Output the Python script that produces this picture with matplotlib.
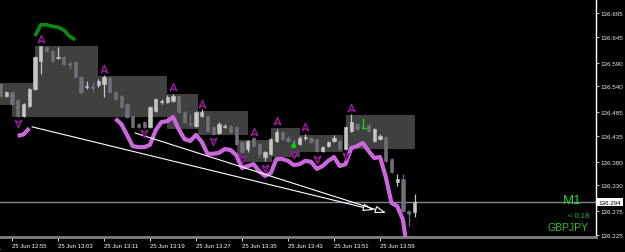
import matplotlib
matplotlib.use('Agg')
import matplotlib.pyplot as plt
import matplotlib.transforms as mtransforms
from matplotlib.path import Path
from matplotlib.patches import Rectangle

plt.rcParams['font.family'] = ['Liberation Sans', 'DejaVu Sans']

# ---------------- data ----------------
# bar positions: minutes relative to 25 Jun 12:55 (M1 chart, GBPJPY)
bars = list(range(-2, 71))
opens = [136.545, 136.519, 136.528, 136.511, 136.477, 136.498, 136.534, 136.593, 136.623, 136.615,
         136.600, 136.602, 136.589, 136.591, 136.559, 136.538, 136.540, 136.543, 136.545, 136.557,
         136.528, 136.519, 136.502, 136.477, 136.460, 136.464, 136.454, 136.488, 136.507, 136.507,
         136.509, 136.519, 136.485, 136.462, 136.456, 136.477, 136.477, 136.454, 136.441, 136.454,
         136.456, 136.454, 136.422, 136.407, 136.430, 136.418, 136.390, 136.397, 136.424, 136.443,
         136.430, 136.424, 136.418, 136.430, 136.430, 136.428, 136.403, 136.413, 136.424, 136.424,
         136.407, 136.445, 136.460, 136.456, 136.458, 136.424, 136.428, 136.432, 136.386, 136.337,
         136.344, 136.276, 136.274]
highs = [136.547, 136.530, 136.530, 136.513, 136.504, 136.536, 136.604, 136.625, 136.625, 136.617,
         136.623, 136.604, 136.593, 136.593, 136.562, 136.551, 136.549, 136.555, 136.564, 136.559,
         136.530, 136.521, 136.504, 136.479, 136.462, 136.466, 136.498, 136.515, 136.513, 136.521,
         136.524, 136.521, 136.488, 136.481, 136.488, 136.492, 136.479, 136.456, 136.464, 136.460,
         136.458, 136.456, 136.424, 136.426, 136.432, 136.420, 136.403, 136.430, 136.449, 136.445,
         136.435, 136.428, 136.435, 136.439, 136.432, 136.430, 136.413, 136.424, 136.437, 136.426,
         136.456, 136.481, 136.462, 136.460, 136.460, 136.452, 136.439, 136.435, 136.388, 136.354,
         136.354, 136.278, 136.312]
lows = [136.517, 136.517, 136.500, 136.475, 136.475, 136.496, 136.532, 136.566, 136.612, 136.591,
        136.598, 136.585, 136.576, 136.557, 136.524, 136.534, 136.528, 136.538, 136.517, 136.526,
        136.511, 136.494, 136.473, 136.452, 136.452, 136.452, 136.452, 136.485, 136.502, 136.504,
        136.507, 136.483, 136.462, 136.454, 136.454, 136.475, 136.443, 136.437, 136.439, 136.452,
        136.441, 136.416, 136.399, 136.401, 136.411, 136.390, 136.382, 136.394, 136.422, 136.426,
        136.422, 136.418, 136.416, 136.426, 136.420, 136.401, 136.401, 136.411, 136.422, 136.405,
        136.405, 136.443, 136.447, 136.452, 136.443, 136.422, 136.426, 136.380, 136.356, 136.329,
        136.274, 136.244, 136.263]
closes = [136.519, 136.528, 136.502, 136.477, 136.502, 136.534, 136.602, 136.625, 136.615, 136.593,
          136.602, 136.587, 136.585, 136.559, 136.528, 136.540, 136.536, 136.551, 136.559, 136.528,
          136.513, 136.496, 136.475, 136.454, 136.454, 136.454, 136.496, 136.513, 136.509, 136.517,
          136.519, 136.485, 136.464, 136.460, 136.485, 136.485, 136.445, 136.439, 136.460, 136.456,
          136.443, 136.418, 136.401, 136.424, 136.413, 136.397, 136.401, 136.428, 136.443, 136.428,
          136.424, 136.423, 136.430, 136.432, 136.422, 136.403, 136.411, 136.422, 136.430, 136.407,
          136.454, 136.464, 136.449, 136.455, 136.445, 136.449, 136.435, 136.382, 136.358, 136.344,
          136.276, 136.269, 136.294]

# range boxes: start bar, end bar, low, high
box_start = [-2.1, 0.0, 4.0, 15.0, 27.0, 32.3, 39.1, 45.0, 48.0, 58.1]
box_end = [4.0, 4.0, 15.0, 27.0, 32.3, 41.0, 45.2, 50.1, 57.6, 70.1]
box_low = [136.500, 136.475, 136.475, 136.475, 136.449, 136.437, 136.380, 136.390, 136.401, 136.407]
box_high = [136.547, 136.547, 136.625, 136.562, 136.524, 136.488, 136.427, 136.452, 136.437, 136.479]

# purple indicator line (two segments)
ind1_x = [1, 2, 3]
ind1_y = [136.435, 136.438, 136.451]
ind2_x = list(range(18, 70))
ind2_y = [136.471, 136.460, 136.437, 136.413, 136.411, 136.411, 136.416, 136.447, 136.464, 136.466,
          136.475, 136.449, 136.428, 136.424, 136.437, 136.422, 136.397, 136.397, 136.399, 136.407,
          136.405, 136.394, 136.367, 136.371, 136.375, 136.360, 136.350, 136.356, 136.386, 136.386,
          136.382, 136.373, 136.375, 136.382, 136.380, 136.365, 136.371, 136.382, 136.390, 136.371,
          136.375, 136.409, 136.413, 136.420, 136.403, 136.388, 136.390, 136.348, 136.293, 136.286,
          136.257, 136.170]

# green line at top
grn_x = [4, 5, 6, 7, 8, 9, 10, 11]
grn_y = [136.646, 136.670, 136.670, 136.667, 136.665, 136.659, 136.646, 136.638]

# fractal arrow markers
up_x = [5, 16, 28, 33, 42, 46, 51, 59]
up_y = [136.640, 136.576, 136.538, 136.502, 136.443, 136.466, 136.454, 136.494]
dn_x = [1, 23, 35, 40, 44, 49, 53, 58]
dn_y = [136.462, 136.441, 136.424, 136.386, 136.367, 136.397, 136.386, 136.392]

# trend line arrows: (x0, y0, x1, y1)
trend_lines = [(3.48, 136.454, 62.96, 136.278),
               (21.39, 136.441, 65.04, 136.272)]

current_price = 136.294
xtick_pos = [-8, 0, 8, 16, 24, 32, 40, 48, 56, 64]
xtick_lab = ['25 Jun 12:47', '25 Jun 12:55', '25 Jun 13:03', '25 Jun 13:11', '25 Jun 13:19',
             '25 Jun 13:27', '25 Jun 13:35', '25 Jun 13:43', '25 Jun 13:51', '25 Jun 13:59']
ytick_vals = [136.695, 136.645, 136.590, 136.540, 136.485, 136.435, 136.380, 136.330, 136.275, 136.225]

# ---------------- figure ----------------
fig = plt.figure(figsize=(6.25, 2.53), dpi=100, facecolor='black')
ax = fig.add_axes([0, 15 / 253, 596 / 625, 238 / 253], facecolor='black')
ax.set_xlim(-2.087, 101.565)
ax.set_ylim(136.2208, 136.7246)

for s, e, lo, hi in zip(box_start, box_end, box_low, box_high):
    ax.add_patch(Rectangle((s, lo), e - s, hi - lo, facecolor='#404040', edgecolor='none', zorder=1))

ax.axhline(current_price, color='#7d8794', lw=1, zorder=1.5)

bull_c, bear_c = '#c6c6c6', '#6f6f78'
for x, o, h, l, c in zip(bars, opens, highs, lows, closes):
    col = bull_c if c >= o else bear_c
    ax.vlines(x, l, h, colors=col, lw=0.9, zorder=2)
    bot = min(o, c)
    ht = max(abs(c - o), 0.0018)
    ax.add_patch(Rectangle((x - 0.3, bot), 0.6, ht, facecolor=col, edgecolor=col, lw=0.4, zorder=3))

purple = '#cc66dd'
ax.plot(ind1_x, ind1_y, color=purple, lw=3, solid_joinstyle='round', solid_capstyle='butt', zorder=4)
ax.plot(ind2_x, ind2_y, color=purple, lw=3, solid_joinstyle='round', solid_capstyle='butt', zorder=4)
ax.plot(grn_x, grn_y, color='#0a8c0a', lw=2.6, solid_joinstyle='round', solid_capstyle='butt', zorder=4)

for x0, y0, x1, y1 in trend_lines:
    ax.annotate('', xy=(x1, y1), xytext=(x0, y0),
                arrowprops=dict(arrowstyle='-|>,head_length=0.65,head_width=0.22', mutation_scale=10,
                                fc='black', ec='white', lw=0.8, shrinkA=0, shrinkB=0), zorder=5)

up_marker = Path([(0, 1), (0.8, -0.8), (0, -0.3), (-0.8, -0.8), (0, 1)],
                 [Path.MOVETO, Path.LINETO, Path.LINETO, Path.LINETO, Path.CLOSEPOLY])
dn_marker = Path([(0, -1), (0.8, 0.8), (0, 0.3), (-0.8, 0.8), (0, -1)],
                 [Path.MOVETO, Path.LINETO, Path.LINETO, Path.LINETO, Path.CLOSEPOLY])
ax.plot(up_x, up_y, ls='none', marker=up_marker, ms=6, mfc='#2a062a', mec='#a01ca0', mew=0.9, zorder=6)
ax.plot(dn_x, dn_y, ls='none', marker=dn_marker, ms=6, mfc='#2a062a', mec='#a01ca0', mew=0.9, zorder=6)

# green trade marks
ax.annotate('', xy=(49, 136.423), xytext=(49, 136.409),
            arrowprops=dict(arrowstyle='-|>,head_length=0.35,head_width=0.18', mutation_scale=8,
                            fc='#00e000', ec='#00e000', lw=1, shrinkA=0, shrinkB=0), zorder=6)
ax.plot([61, 61], [136.471, 136.452], color='#00e000', lw=1, zorder=6)
ax.plot([60.8, 61.6], [136.452, 136.452], color='#00e000', lw=1, zorder=6)

# axes styling
for side in ['top', 'left']:
    ax.spines[side].set_visible(False)
ax.spines['bottom'].set_color('#808080')
ax.spines['bottom'].set_linewidth(2)
ax.spines['right'].set_color('white')
ax.spines['right'].set_linewidth(1)

ax.yaxis.tick_right()
ax.set_yticks(ytick_vals)
ax.set_yticklabels([f'{v:.3f}' for v in ytick_vals])
ax.tick_params(axis='y', colors='#e6e6e6', labelsize=4.5, length=2, width=0.6, pad=1.2)

xt = [(p, t) for p, t in zip(xtick_pos, xtick_lab) if p >= -2]
ax.set_xticks([p for p, _ in xt])
ax.set_xticklabels([t for _, t in xt])
ax.tick_params(axis='x', colors='white', labelsize=4.3, length=3, width=0.6, pad=1.5)
for lab in ax.get_xticklabels():
    lab.set_ha('left')
trans = mtransforms.blended_transform_factory(ax.transData, ax.transAxes)
for p, t in zip(xtick_pos, xtick_lab):
    if p < -2:
        ax.text(p, -0.045, t, transform=trans, color='white', fontsize=4.3, ha='left', va='top', clip_on=False)

tp = mtransforms.blended_transform_factory(ax.transAxes, ax.transData)
ax.text(1.004, current_price, f'{current_price:.3f}', transform=tp, fontsize=4.5, color='black',
        va='center', ha='left', clip_on=False, zorder=10,
        bbox=dict(boxstyle='square,pad=0.25', fc='white', ec='none'))

ax.text(0.975, 0.155, 'M1', transform=ax.transAxes, color='#32cd32', fontsize=9.5, ha='right', va='center')
ax.text(0.988, 0.092, '< 0:18', transform=ax.transAxes, color='#28b428', fontsize=5.5, ha='right', va='center')
ax.text(0.988, 0.040, 'GBPJPY', transform=ax.transAxes, color='#28c028', fontsize=7.5, ha='right', va='center')

fig.savefig('out.png', dpi=100, facecolor='black')
